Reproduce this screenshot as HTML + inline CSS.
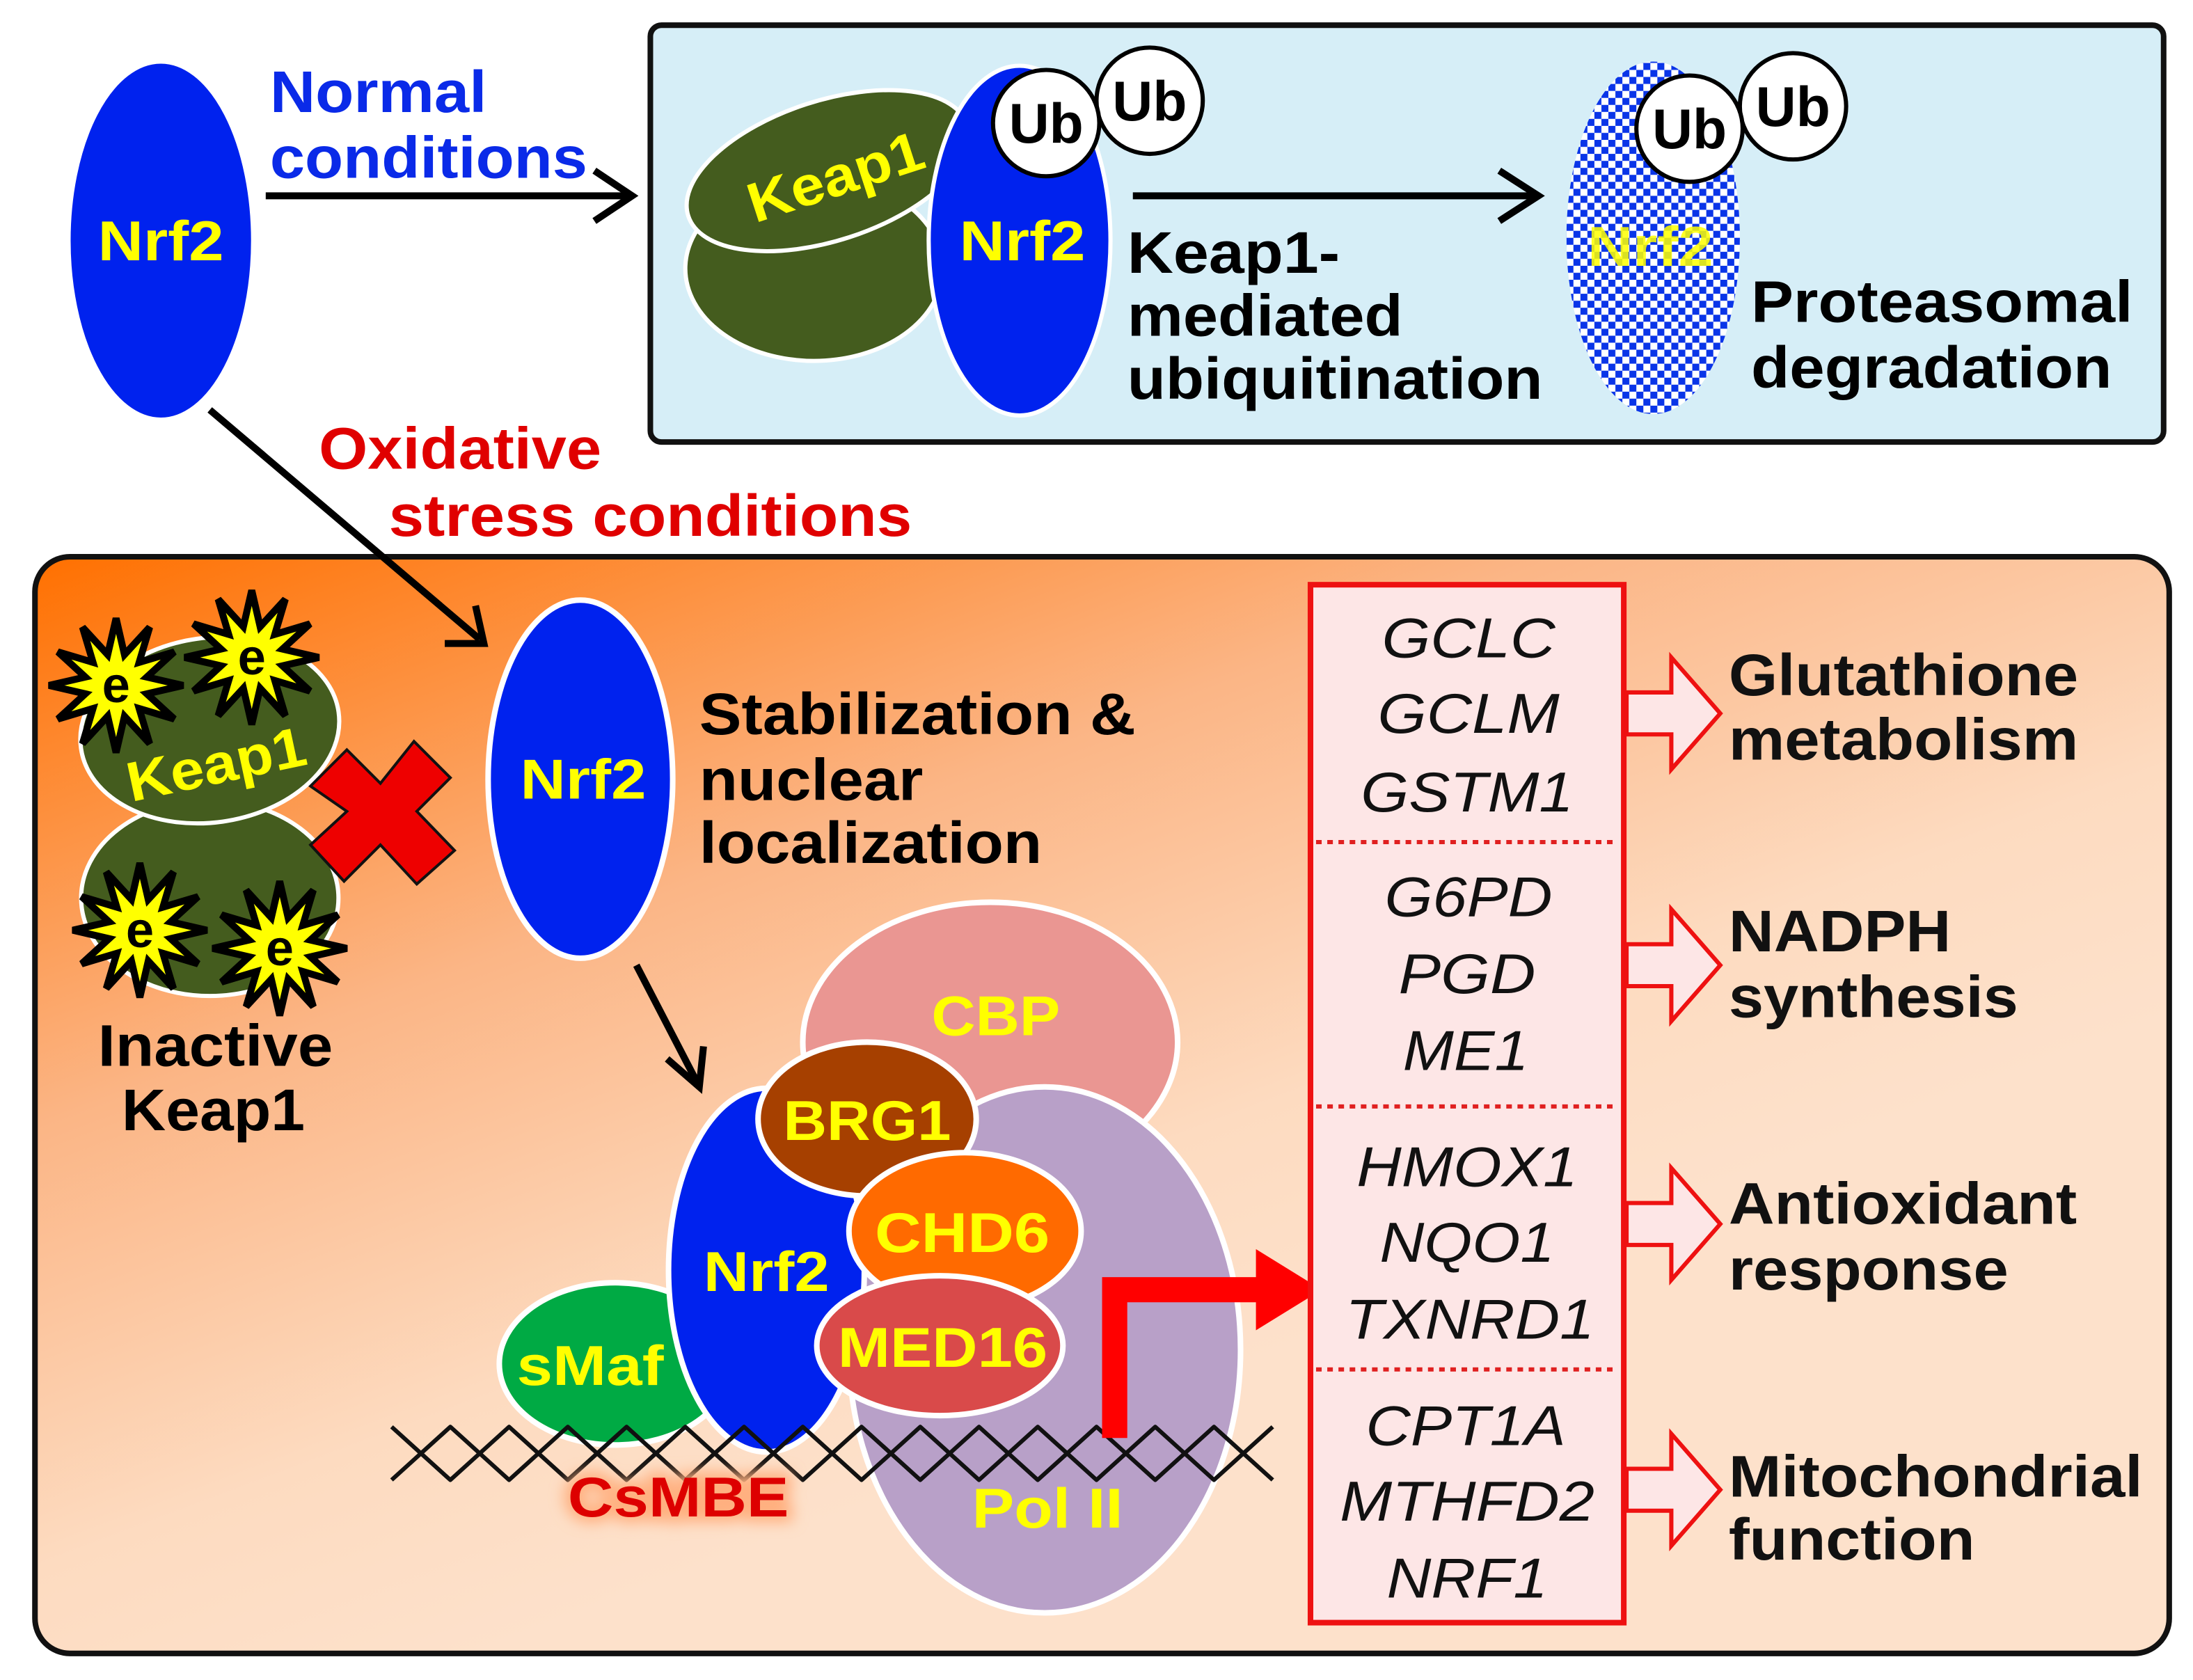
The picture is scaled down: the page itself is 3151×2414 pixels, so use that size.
<!DOCTYPE html>
<html><head><meta charset="utf-8"><style>html,body{margin:0;padding:0;background:#fff}svg{display:block}text{font-family:"Liberation Sans",Arial,sans-serif;font-weight:bold}.g text{font-weight:normal}</style></head>
<body>
<svg width="3151" height="2414" viewBox="0 0 1568 1201" preserveAspectRatio="none" xmlns="http://www.w3.org/2000/svg">
<defs>
<linearGradient id="bg" x1="0" y1="0" x2="0.55" y2="0.75">
<stop offset="0" stop-color="#ff7000"/><stop offset="0.45" stop-color="#fbb585"/><stop offset="0.8" stop-color="#fddbc0"/><stop offset="1" stop-color="#fde1cb"/>
</linearGradient>
<pattern id="chk" width="10" height="10" patternUnits="userSpaceOnUse">
<rect width="10" height="10" fill="#fff"/><rect width="5" height="5" fill="#0a35e8"/><rect x="5" y="5" width="5" height="5" fill="#0a35e8"/>
</pattern>
<polygon id="star" points="0,-48 6,-22 24,-41.6 16.5,-16.5 41.6,-24 22,-6 48,0 22,6 41.6,24 16.5,16.5 24,41.6 6,22 0,48 -6,22 -24,41.6 -16.5,16.5 -41.6,24 -22,6 -48,0 -22,-6 -41.6,-24 -16.5,-16.5 -24,-41.6 -6,-22" fill="#ffff00" stroke="#000" stroke-width="5" stroke-linejoin="miter"/>
<filter id="glow" x="-20%" y="-40%" width="140%" height="180%"><feGaussianBlur stdDeviation="5"/></filter>
</defs>

<ellipse cx="115" cy="172" rx="66" ry="128" fill="#0022ee" stroke="#fff" stroke-width="3"/>
<text x="115" y="186" fill="#ffff00" font-size="40" text-anchor="middle" textLength="90" lengthAdjust="spacingAndGlyphs">Nrf2</text>
<text x="193" y="80" fill="#0a2ae8" font-size="42" textLength="155" lengthAdjust="spacingAndGlyphs">Normal</text>
<text x="193" y="127" fill="#0a2ae8" font-size="42" textLength="227" lengthAdjust="spacingAndGlyphs">conditions</text>
<line x1="190" y1="140" x2="450" y2="140" stroke="#000" stroke-width="5"/>
<path d="M425,122 L452,140 L425,158" fill="none" stroke="#000" stroke-width="5"/>

<rect x="465" y="18" width="1082" height="298" rx="8" fill="#d6eef7" stroke="#111" stroke-width="4"/>
<ellipse cx="582" cy="192" rx="92" ry="66" fill="#445c1e" stroke="#fff" stroke-width="3"/>
<ellipse cx="592" cy="122" rx="105" ry="50" transform="rotate(-18 592 122)" fill="#445c1e" stroke="#fff" stroke-width="3"/>
<text x="598" y="140" fill="#ffff00" font-size="40" text-anchor="middle" transform="rotate(-18 598 128)" textLength="130" lengthAdjust="spacingAndGlyphs">Keap1</text>
<ellipse cx="729" cy="172" rx="65" ry="125" fill="#0022ee" stroke="#fff" stroke-width="3"/>
<text x="731" y="186" fill="#ffff00" font-size="40" text-anchor="middle" textLength="90" lengthAdjust="spacingAndGlyphs">Nrf2</text>
<circle cx="822" cy="72" r="38" fill="#fff" stroke="#000" stroke-width="3"/>
<text x="822" y="86" font-size="40" text-anchor="middle">Ub</text>
<circle cx="748" cy="88" r="38" fill="#fff" stroke="#000" stroke-width="3"/>
<text x="748" y="102" font-size="40" text-anchor="middle">Ub</text>
<line x1="810" y1="140" x2="1098" y2="140" stroke="#000" stroke-width="5"/>
<path d="M1072,122 L1100,140 L1072,158" fill="none" stroke="#000" stroke-width="5"/>
<text x="806" y="195" font-size="42" textLength="152" lengthAdjust="spacingAndGlyphs">Keap1-</text>
<text x="806" y="240" font-size="42" textLength="197" lengthAdjust="spacingAndGlyphs">mediated</text>
<text x="806" y="285" font-size="42" textLength="297" lengthAdjust="spacingAndGlyphs">ubiquitination</text>
<ellipse cx="1182" cy="170" rx="62" ry="126" fill="url(#chk)"/>
<text x="1180" y="190" fill="#ffff00" font-size="40" text-anchor="middle" textLength="90" lengthAdjust="spacingAndGlyphs" opacity="0.85">Nrf2</text>
<circle cx="1282" cy="76" r="38" fill="#fff" stroke="#000" stroke-width="3"/>
<text x="1282" y="90" font-size="40" text-anchor="middle">Ub</text>
<circle cx="1208" cy="92" r="38" fill="#fff" stroke="#000" stroke-width="3"/>
<text x="1208" y="106" font-size="40" text-anchor="middle">Ub</text>
<text x="1252" y="230" font-size="42" textLength="273" lengthAdjust="spacingAndGlyphs">Proteasomal</text>
<text x="1252" y="277" font-size="42" textLength="258" lengthAdjust="spacingAndGlyphs">degradation</text>

<text x="228" y="335" fill="#e00000" font-size="42" textLength="202" lengthAdjust="spacingAndGlyphs">Oxidative</text>
<text x="278" y="383" fill="#e00000" font-size="42" textLength="374" lengthAdjust="spacingAndGlyphs">stress conditions</text>

<rect x="25" y="398" width="1526" height="784" rx="25" fill="url(#bg)" stroke="#111" stroke-width="4"/>
<line x1="150" y1="293" x2="343" y2="457" stroke="#000" stroke-width="5"/>
<path d="M318,460 L346,460 L340,433" fill="none" stroke="#000" stroke-width="5"/>

<ellipse cx="150" cy="642" rx="92" ry="70" fill="#445c1e" stroke="#fff" stroke-width="3"/>
<ellipse cx="150" cy="522" rx="93" ry="66" transform="rotate(-8 150 522)" fill="#445c1e" stroke="#fff" stroke-width="3"/>
<text x="155" y="560" fill="#ffff00" font-size="40" text-anchor="middle" transform="rotate(-12 155 548)" textLength="130" lengthAdjust="spacingAndGlyphs">Keap1</text>
<use href="#star" x="83" y="490"/><use href="#star" x="180" y="470"/><use href="#star" x="100" y="665"/><use href="#star" x="200" y="678"/>
<g font-size="36" text-anchor="middle"><text x="83" y="502">e</text><text x="180" y="482">e</text><text x="100" y="677">e</text><text x="200" y="690">e</text></g>
<polygon points="222,562 248,536 272,560 296,530 322,556 298,580 325,608 298,632 272,604 246,630 222,604 248,580" fill="#ee0000" stroke="#111" stroke-width="2"/>
<text x="70" y="762" font-size="42" textLength="168" lengthAdjust="spacingAndGlyphs">Inactive</text>
<text x="87" y="808" font-size="42" textLength="131" lengthAdjust="spacingAndGlyphs">Keap1</text>

<ellipse cx="415" cy="557" rx="66" ry="128" fill="#0022ee" stroke="#fff" stroke-width="4"/>
<text x="417" y="571" fill="#ffff00" font-size="40" text-anchor="middle" textLength="90" lengthAdjust="spacingAndGlyphs">Nrf2</text>
<text x="500" y="525" font-size="42" textLength="312" lengthAdjust="spacingAndGlyphs">Stabilization &amp;</text>
<text x="500" y="572" font-size="42" textLength="160" lengthAdjust="spacingAndGlyphs">nuclear</text>
<text x="500" y="617" font-size="42" textLength="245" lengthAdjust="spacingAndGlyphs">localization</text>
<line x1="455" y1="690" x2="498" y2="773" stroke="#000" stroke-width="5"/>
<path d="M477,757 L500,777 L503,748" fill="none" stroke="#000" stroke-width="5"/>

<ellipse cx="708" cy="745" rx="134" ry="100" fill="#ea9692" stroke="#fff" stroke-width="4"/>
<ellipse cx="747" cy="965" rx="140" ry="188" fill="#b8a0c8" stroke="#fff" stroke-width="4"/>
<ellipse cx="440" cy="975" rx="83" ry="58" fill="#00aa44" stroke="#fff" stroke-width="4"/>
<ellipse cx="548" cy="908" rx="70" ry="130" fill="#0022ee" stroke="#fff" stroke-width="4"/>
<ellipse cx="620" cy="800" rx="78" ry="55" fill="#a64000" stroke="#fff" stroke-width="4"/>
<ellipse cx="690" cy="880" rx="83" ry="56" fill="#ff6a00" stroke="#fff" stroke-width="4"/>
<ellipse cx="672" cy="962" rx="88" ry="50" fill="#d94a4a" stroke="#fff" stroke-width="4"/>
<g fill="#ffff00" font-size="40" text-anchor="middle">
<text x="712" y="740" textLength="92" lengthAdjust="spacingAndGlyphs">CBP</text>
<text x="620" y="815" textLength="120" lengthAdjust="spacingAndGlyphs">BRG1</text>
<text x="688" y="895" textLength="125" lengthAdjust="spacingAndGlyphs">CHD6</text>
<text x="674" y="977" textLength="150" lengthAdjust="spacingAndGlyphs">MED16</text>
<text x="548" y="923" textLength="90" lengthAdjust="spacingAndGlyphs">Nrf2</text>
<text x="422" y="990" textLength="105" lengthAdjust="spacingAndGlyphs">sMaf</text>
<text x="749" y="1092" textLength="108" lengthAdjust="spacingAndGlyphs">Pol II</text>
</g>
<g fill="none" stroke="#111" stroke-width="3" stroke-linejoin="round">
<polyline points="280,1058 322,1020 364,1058 406,1020 448,1058 490,1020 532,1058 574,1020 616,1058 658,1020 700,1058 742,1020 784,1058 826,1020 868,1058 910,1020"/>
<polyline points="280,1020 322,1058 364,1020 406,1058 448,1020 490,1058 532,1020 574,1058 616,1020 658,1058 700,1020 742,1058 784,1020 826,1058 868,1020 910,1058"/>
</g>
<text x="485" y="1084" font-size="40" text-anchor="middle" fill="#ffb080" stroke="#ffb080" stroke-width="8" filter="url(#glow)" textLength="158" lengthAdjust="spacingAndGlyphs">CsMBE</text>
<text x="485" y="1084" font-size="40" text-anchor="middle" fill="#dd0000" textLength="158" lengthAdjust="spacingAndGlyphs">CsMBE</text>
<path d="M797,1028 L797,922 L905,922" fill="none" stroke="#ff0000" stroke-width="18"/>
<polygon points="898,893 945,922 898,951" fill="#ff0000"/>

<rect x="937" y="418" width="224" height="742" fill="#fde6e6" stroke="#ee1111" stroke-width="4"/>
<g stroke="#e02020" stroke-width="3" stroke-dasharray="4,4"><line x1="941" y1="602" x2="1157" y2="602"/><line x1="941" y1="791" x2="1157" y2="791"/><line x1="941" y1="979" x2="1157" y2="979"/></g>
<g class="g" font-size="40" font-style="italic" text-anchor="middle" fill="#111">
<text x="1050" y="470" textLength="124" lengthAdjust="spacingAndGlyphs">GCLC</text>
<text x="1050" y="524" textLength="130" lengthAdjust="spacingAndGlyphs">GCLM</text>
<text x="1049" y="580" textLength="152" lengthAdjust="spacingAndGlyphs">GSTM1</text>
<text x="1050" y="655" textLength="120" lengthAdjust="spacingAndGlyphs">G6PD</text>
<text x="1049" y="710" textLength="98" lengthAdjust="spacingAndGlyphs">PGD</text>
<text x="1048" y="765" textLength="90" lengthAdjust="spacingAndGlyphs">ME1</text>
<text x="1049" y="848" textLength="158" lengthAdjust="spacingAndGlyphs">HMOX1</text>
<text x="1049" y="902" textLength="125" lengthAdjust="spacingAndGlyphs">NQO1</text>
<text x="1051" y="957" textLength="178" lengthAdjust="spacingAndGlyphs">TXNRD1</text>
<text x="1048" y="1033" textLength="143" lengthAdjust="spacingAndGlyphs">CPT1A</text>
<text x="1049" y="1087" textLength="182" lengthAdjust="spacingAndGlyphs">MTHFD2</text>
<text x="1049" y="1142" textLength="115" lengthAdjust="spacingAndGlyphs">NRF1</text>
</g>
<g fill="#fde6e6" stroke="#ee1111" stroke-width="3">
<polygon points="1163,495 1195,495 1195,470 1230,510 1195,550 1195,525 1163,525"/>
<polygon points="1163,675 1195,675 1195,650 1230,690 1195,730 1195,705 1163,705"/>
<polygon points="1163,860 1195,860 1195,835 1230,875 1195,915 1195,890 1163,890"/>
<polygon points="1163,1050 1195,1050 1195,1025 1230,1065 1195,1105 1195,1080 1163,1080"/>
</g>
<g font-size="42" fill="#111">
<text x="1236" y="497" textLength="250" lengthAdjust="spacingAndGlyphs">Glutathione</text>
<text x="1236" y="543" textLength="250" lengthAdjust="spacingAndGlyphs">metabolism</text>
<text x="1236" y="680" textLength="159" lengthAdjust="spacingAndGlyphs">NADPH</text>
<text x="1236" y="727" textLength="207" lengthAdjust="spacingAndGlyphs">synthesis</text>
<text x="1236" y="875" textLength="249" lengthAdjust="spacingAndGlyphs">Antioxidant</text>
<text x="1236" y="922" textLength="200" lengthAdjust="spacingAndGlyphs">response</text>
<text x="1236" y="1070" textLength="296" lengthAdjust="spacingAndGlyphs">Mitochondrial</text>
<text x="1236" y="1115" textLength="176" lengthAdjust="spacingAndGlyphs">function</text>
</g>
</svg>
</body></html>
